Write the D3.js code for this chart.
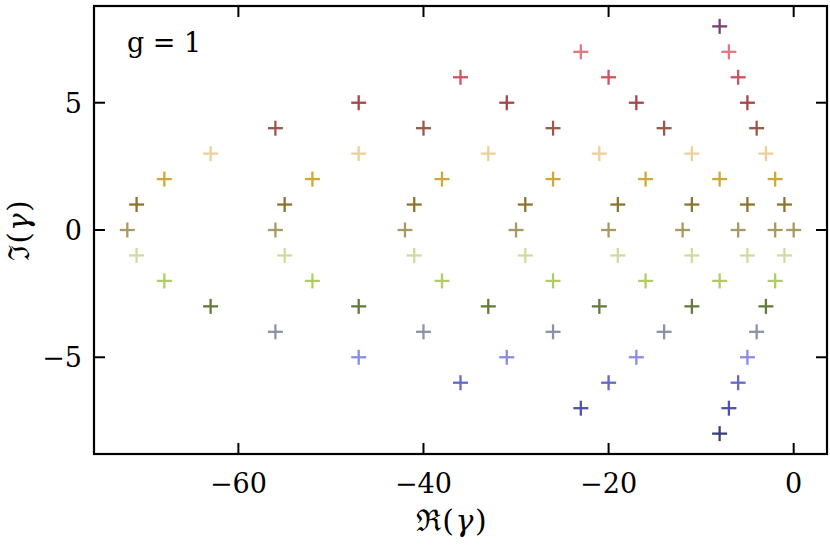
<!DOCTYPE html>
<html>
<head>
<meta charset="utf-8">
<script src="https://cdn.jsdelivr.net/npm/d3@7"></script>
<style>
  html, body { margin: 0; padding: 0; background: #fff; }
  svg text { font-family: "DejaVu Serif", "Liberation Serif", serif; fill: #000; }
</style>
</head>
<body>
<svg id="chart" width="830" height="549"></svg>
<script>
// ── Data: imaginary level and the real parts found at that level ──────────
const imLevels = [8, 7, 6, 5, 4, 3, 2, 1, 0, -1, -2, -3, -4, -5, -6, -7, -8];
const reByLevel = [
  [-8],
  [-23, -7],
  [-36, -20, -6],
  [-47, -31, -17, -5],
  [-56, -40, -26, -14, -4],
  [-63, -47, -33, -21, -11, -3],
  [-68, -52, -38, -26, -16, -8, -2],
  [-71, -55, -41, -29, -19, -11, -5, -1],
  [-72, -56, -42, -30, -20, -12, -6, -2, 0],
  [-71, -55, -41, -29, -19, -11, -5, -1],
  [-68, -52, -38, -26, -16, -8, -2],
  [-63, -47, -33, -21, -11, -3],
  [-56, -40, -26, -14, -4],
  [-47, -31, -17, -5],
  [-36, -20, -6],
  [-23, -7],
  [-8]
];
const levelColors = [
  '#7a4273', '#e47680', '#cc5560', '#a9454a', '#99594a', '#ecd09c',
  '#cfa83a', '#8e7230', '#a89a62', '#cfdca0', '#b0cc66', '#647a3a',
  '#8a93a6', '#8a8de0', '#6669cc', '#4f52a6', '#3c3f7a'
];
const xTicks = [-60, -40, -20, 0];
const yTicks = [-5, 0, 5];

// flatten to points
const points = [];
imLevels.forEach((im, i) => {
  reByLevel[i].forEach(re => points.push({ re, im, color: levelColors[i] }));
});

// ── Geometry ─────────────────────────────────────────────────────────────
const L = 94, R = 827, T = 6, B = 454;
const TICK = 11;
const HALF = 7.5;   // half-size of the + marker

const x = d3.scaleLinear().domain([-75.6, 3.6]).range([L, R]);
const y = d3.scaleLinear().domain([-8.8, 8.8]).range([B, T]);

const svg = d3.select('#chart');
const fmt = v => (v < 0 ? '\u2212' + Math.abs(v) : String(v));

// markers
const marks = svg.append('g').attr('class', 'points')
  .selectAll('g')
  .data(points)
  .enter().append('g')
  .attr('transform', d => `translate(${x(d.re)},${y(d.im)})`)
  .attr('stroke', d => d.color)
  .attr('stroke-width', 2.3);

marks.append('line').attr('x1', -HALF).attr('x2', HALF).attr('y1', 0).attr('y2', 0);
marks.append('line').attr('x1', 0).attr('x2', 0).attr('y1', -HALF).attr('y2', HALF);

// ticks (inward, all four sides)
const ticks = svg.append('g').attr('stroke', '#000').attr('stroke-width', 2);
xTicks.forEach(v => {
  ticks.append('line').attr('x1', x(v)).attr('x2', x(v)).attr('y1', B).attr('y2', B - TICK);
  ticks.append('line').attr('x1', x(v)).attr('x2', x(v)).attr('y1', T).attr('y2', T + TICK);
});
yTicks.forEach(v => {
  ticks.append('line').attr('x1', L).attr('x2', L + TICK).attr('y1', y(v)).attr('y2', y(v));
  ticks.append('line').attr('x1', R).attr('x2', R - TICK).attr('y1', y(v)).attr('y2', y(v));
});

// frame
svg.append('rect')
  .attr('x', L).attr('y', T)
  .attr('width', R - L).attr('height', B - T)
  .attr('fill', 'none').attr('stroke', '#000').attr('stroke-width', 2.2);

// tick labels
svg.append('g').selectAll('text')
  .data(xTicks).enter().append('text')
  .attr('x', d => x(d)).attr('y', 493)
  .attr('text-anchor', 'middle')
  .attr('font-size', 27)
  .text(fmt);

svg.append('g').selectAll('text')
  .data(yTicks).enter().append('text')
  .attr('x', 82).attr('y', d => y(d) + 10)
  .attr('text-anchor', 'end')
  .attr('font-size', 27)
  .text(fmt);

// axis labels
const xl = svg.append('text')
  .attr('x', 452).attr('y', 531)
  .attr('text-anchor', 'middle')
  .attr('font-size', 30)
  .attr('letter-spacing', 1.5);
xl.append('tspan').text('\u211C(');
xl.append('tspan').attr('font-style', 'italic').text('\u03B3');
xl.append('tspan').text(')');

const yl = svg.append('text')
  .attr('transform', `translate(29,${y(0)}) rotate(-90)`)
  .attr('text-anchor', 'middle')
  .attr('font-size', 29)
  .attr('letter-spacing', 1.5);
yl.append('tspan').text('\u2111(');
yl.append('tspan').attr('font-style', 'italic').text('\u03B3');
yl.append('tspan').text(')');

// annotation
svg.append('text')
  .attr('x', 127).attr('y', 52)
  .attr('font-size', 27)
  .text('g = 1');
</script>
</body>
</html>
